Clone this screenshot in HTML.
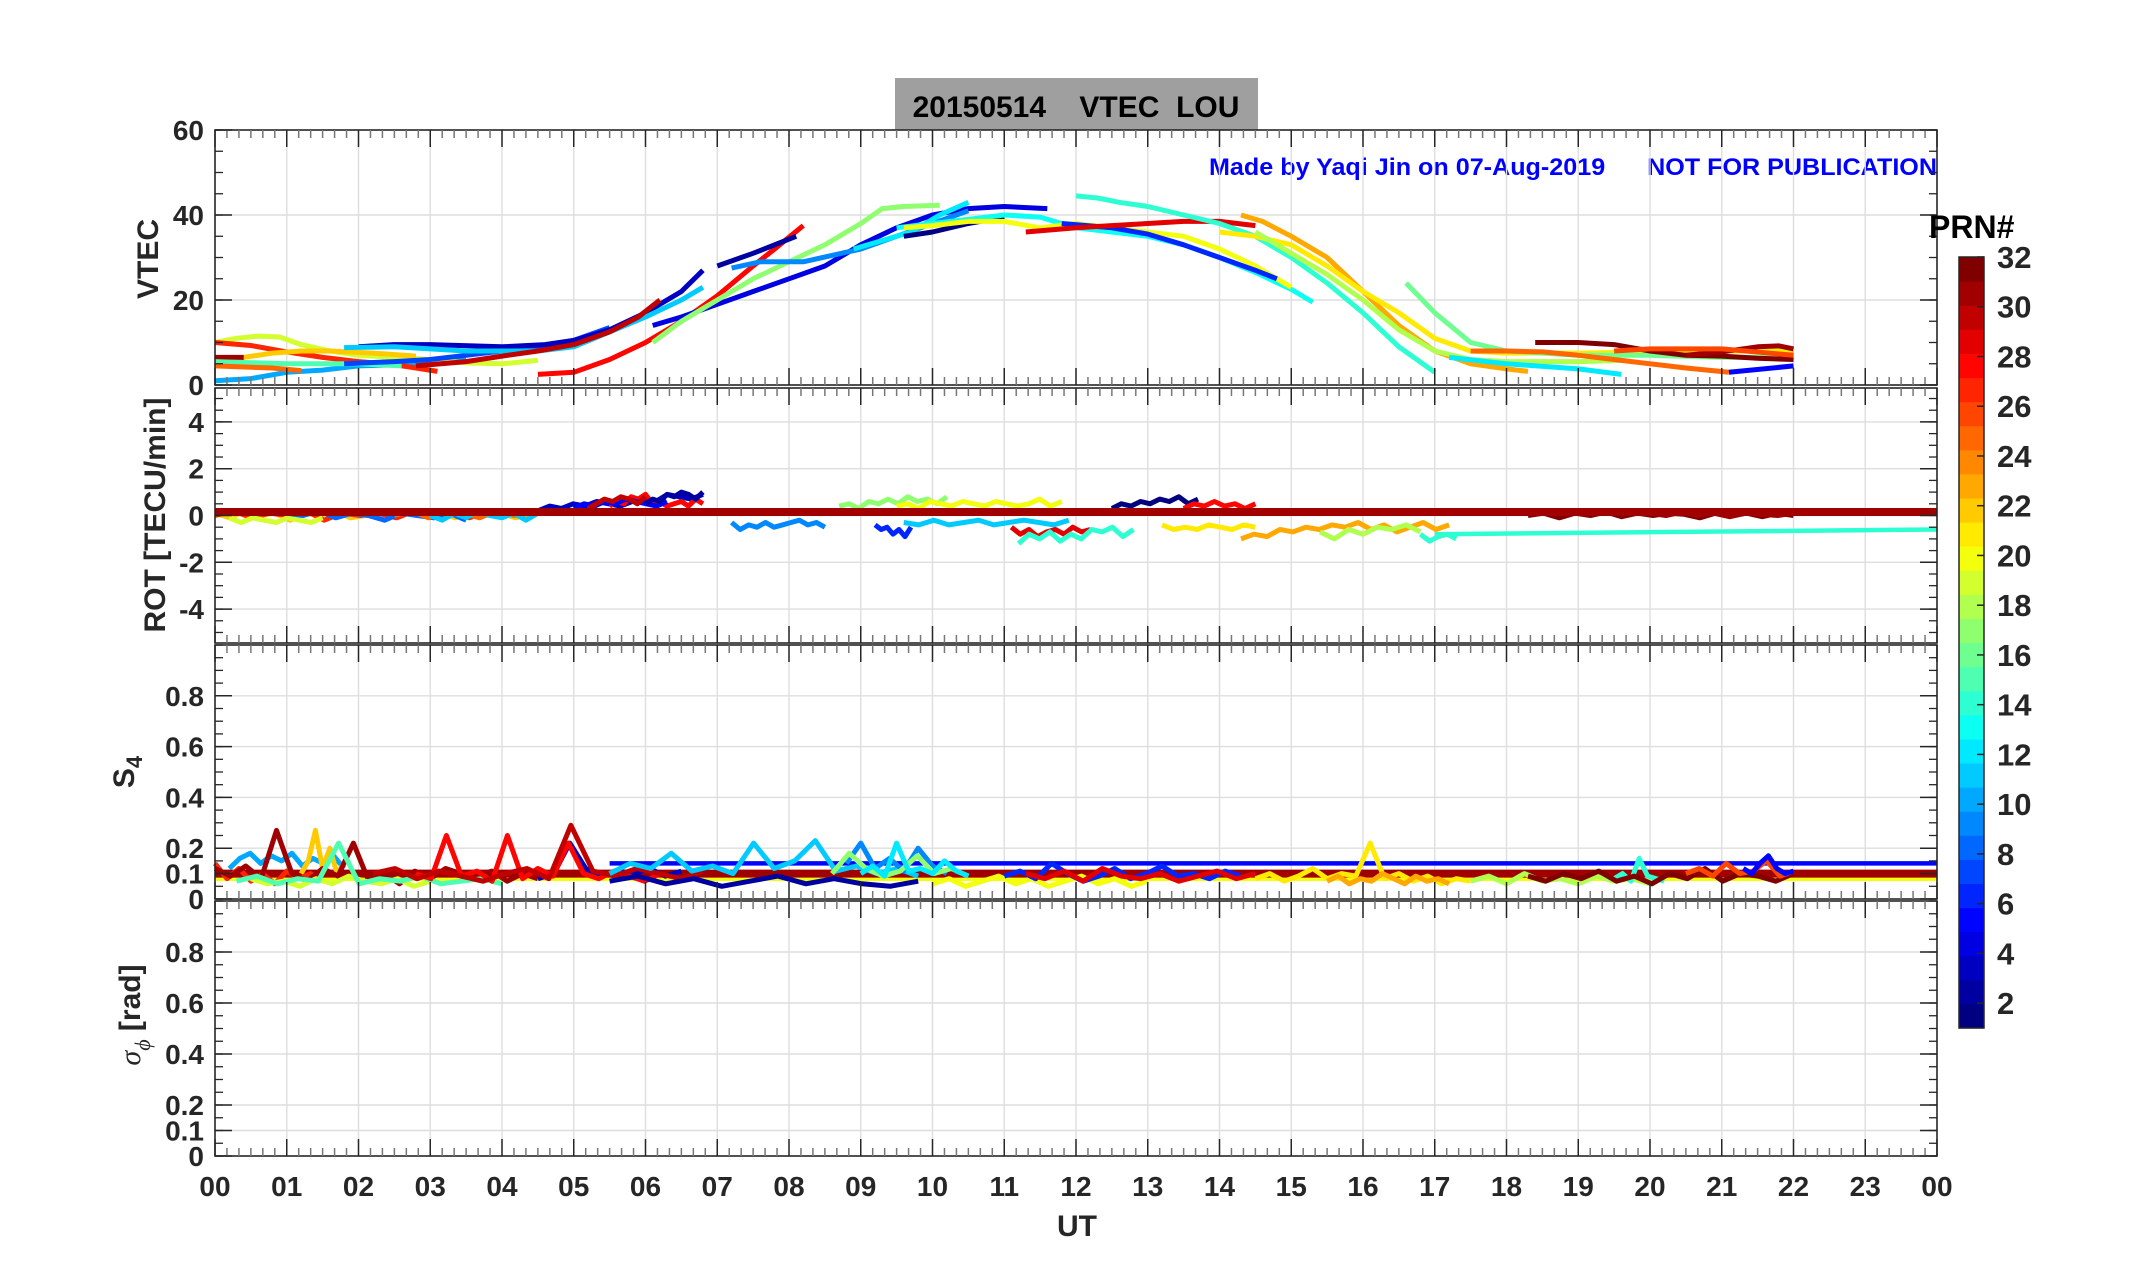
<!DOCTYPE html>
<html><head><meta charset="utf-8"><style>
html,body{margin:0;padding:0;background:#fff;}
svg{display:block;font-family:"Liberation Sans",Arial,sans-serif;}
</style></head><body>
<svg id="chart" width="2153" height="1286" viewBox="0 0 2153 1286" xmlns="http://www.w3.org/2000/svg">
<rect x="0" y="0" width="2153" height="1286" fill="#fff"/>
<rect x="895" y="78" width="363" height="52" fill="#9f9f9f"/>
<text x="1076" y="117" text-anchor="middle" font-size="30" font-weight="bold" fill="#000" xml:space="preserve">20150514    VTEC  LOU</text>
<text x="1937" y="175" text-anchor="end" font-size="24.5" font-weight="bold" fill="#0000ff" textLength="728" lengthAdjust="spacingAndGlyphs" xml:space="preserve">Made by Yaqi Jin on 07-Aug-2019      NOT FOR PUBLICATION</text>
<g id="grid"></g><g id="series"></g><g id="axes"></g>
<text transform="translate(158,259) rotate(-90)" text-anchor="middle" font-size="30" font-weight="bold" fill="#262626">VTEC</text>
<text transform="translate(165,515) rotate(-90)" text-anchor="middle" font-size="30" font-weight="bold" fill="#262626">ROT [TECU/min]</text>
<text transform="translate(134,772) rotate(-90)" text-anchor="middle" font-size="30" font-weight="bold" fill="#262626">S<tspan font-size="22" dy="8">4</tspan></text>
<text transform="translate(140,1015) rotate(-90)" text-anchor="middle" font-size="30" font-weight="bold" fill="#262626"><tspan font-family="Liberation Serif" font-style="italic" font-weight="normal">σ</tspan><tspan font-size="22" dy="10" font-family="Liberation Serif" font-style="italic" font-weight="normal">ϕ</tspan><tspan dy="-10"> [rad]</tspan></text>
<text x="1077" y="1236" text-anchor="middle" font-size="30" font-weight="bold" fill="#262626">UT</text>
<text x="1929" y="238" font-size="32" font-weight="bold" fill="#000">PRN#</text>
<g id="cbar"></g>
</svg>
<script>
// ---------- data ----------
const xTickLabels = ["00","01","02","03","04","05","06","07","08","09","10","11","12","13","14","15","16","17","18","19","20","21","22","23","00"];
const vtecTicks = [0,20,40,60];
const rotTicks = [-4,-2,0,2,4];
const s4Ticks = [0,0.1,0.2,0.4,0.6,0.8];
const cbarTicks = [2,4,6,8,10,12,14,16,18,20,22,24,26,28,30,32];

const vtecPrn = [10,19,27,22,31,15,25,7,3,11,30,28,4,17,9,2,12,1,13,20,6,29,14,23,21,18,16,12,25,32,31,26,5];
const vtecArcs = [
 [[0,1],[0.5,1.5],[1,3],[1.5,3.5],[2,4.5],[3,5],[3.5,6]],
 [[0,10],[0.3,11],[0.6,11.5],[0.9,11.3],[1.2,9.5],[1.6,8],[2,7],[3,6],[3.5,5.2],[4,5],[4.5,5.8]],
 [[0,10],[0.5,9.3],[1,7.8],[1.5,6.5],[2,5.5],[2.5,4.8],[3.1,3.2]],
 [[0,6],[0.4,6.5],[0.8,7.5],[1.2,8],[1.6,8],[2.2,7.5],[2.8,6.8]],
 [[0,6.5],[0.4,6.5]],
 [[0,5.5],[1,5],[2,5],[2.6,4.5]],
 [[0,4.5],[0.8,4],[1.2,3.4]],
 [[1.8,5],[2.5,5.5],[3,6],[3.5,7],[4,8],[4.5,8.8],[5,10.5],[5.5,13.5]],
 [[2,9],[2.5,9.5],[3,9.5],[4,9],[4.6,9.5],[5,10.5],[5.5,13],[6,17],[6.5,22],[6.8,27]],
 [[1.8,8.8],[2.5,9],[3.5,8],[4.5,8],[5,9],[5.5,12.5],[6,16],[6.5,20],[6.8,23]],
 [[2.8,4.5],[3.5,5.5],[4,6.8],[4.5,8],[5,9.5],[5.5,12.5],[5.9,16],[6.2,20]],
 [[4.5,2.5],[5,3],[5.5,6],[6,10],[6.5,15],[7,21],[7.5,28],[7.8,32],[8.2,37.5]],
 [[6.1,14],[6.5,16],[7,19],[7.5,22],[8,25],[8.5,28],[9,33],[9.5,37],[10,40],[10.5,41.5],[11,42],[11.6,41.5]],
 [[6.1,10],[6.5,15],[7,20],[7.5,25],[8,29],[8.5,33],[9,38],[9.3,41.5],[9.6,42],[10.1,42.3]],
 [[7.2,27.5],[7.6,29],[8.2,29],[8.6,30.5],[9,32],[9.5,35],[10,38],[10.5,41]],
 [[7,28],[7.5,31],[8.1,35]],
 [[8.9,32],[9.3,34],[9.7,36],[10.1,40],[10.5,43]],
 [[9.6,35],[10,36],[10.5,38],[11,39.5]],
 [[9.5,37],[10,38],[10.5,39],[11,40],[11.5,39.5],[12,37],[12.5,36],[13,35],[13.5,33],[14,30],[14.5,26.5],[15,22.5],[15.3,19.5]],
 [[9.6,37],[10,37.5],[10.5,38.5],[11,38.5],[11.5,37],[12,38],[12.5,37],[13,36],[13.5,35],[14,32],[14.5,28],[15,23]],
 [[11.8,38],[12.5,37],[13,35.5],[13.5,33],[14,30],[14.5,27],[14.8,25]],
 [[11.3,36],[12,37],[12.5,37.5],[13,38],[13.5,38.5],[14,38.5],[14.5,37.5]],
 [[12,44.5],[12.3,44],[12.6,43],[13,42],[13.5,40],[14,38],[14.5,35],[15,30],[15.5,24],[16,17],[16.5,9],[17,3]],
 [[14.3,40],[14.6,38.5],[15,35],[15.5,30],[16,22],[16.5,14],[17,8],[17.5,5],[18,3.8],[18.3,3.2]],
 [[14,36],[14.5,35],[15,33],[15.5,28],[16,22],[16.5,17],[17,11],[17.5,8],[18,7.5],[19,7.5],[20,7.8],[21,8],[22,8]],
 [[14.5,36],[15,31],[15.5,26],[16,20],[16.5,13],[17,8],[17.5,6],[18,5.5],[19,5.5],[19.6,5.8]],
 [[16.6,24],[17,17],[17.5,10],[18,8],[19,7],[20,7],[21,6.5],[22,6.5]],
 [[17.2,6.5],[18,5],[19,3.8],[19.6,2.5]],
 [[17.5,8],[18,8],[18.5,7.8],[19,7],[19.5,6],[20,5],[20.5,4],[21.1,3]],
 [[18.4,10],[19,10],[19.5,9.5],[20,8],[20.5,7],[21,6.8],[21.5,6.3],[22,6]],
 [[20.5,7],[21,7.8],[21.5,9],[21.8,9.2],[22,8.5]],
 [[19.5,8],[20,8.5],[21,8.5],[22,7]],
 [[21.1,3],[22,4.5]]
];

const rotPrn = [22,27,19,8,25,11,3,28,5,2,30,9,17,6,20,11,29,14,1,28,21,23,18,14,32,31];
const rotStart = [0,0,0.2,1,2.5,3,4.5,5.5,5,6,5.2,7.2,8.7,9.2,9.5,9.6,11.1,11.2,12.5,13.5,13.2,14.3,15.4,16.8,18.3,20];
const rotEnd = [4.4,3.8,1.5,3.5,4.4,4.5,6.8,6.8,6.3,6.8,6,8.5,10.2,9.7,11.8,11.9,12.2,12.8,13.7,14.5,14.5,17.2,16.8,17.3,22,22];
const rotVals = [
 [0.1,-0.1,0.2,0,0.1,-0.2,0.1,0,0.2,-0.1,0,0.1,-0.1,0.2,0,0.1,-0.1,0.2,0,0.1,-0.1,0.1],
 [0,0.2,-0.1,0.1,0,0.2,-0.2,0.1,0,0.1,-0.1,0.2,0,0.15,-0.1,0.2],
 [-0.1,-0.3,-0.1,-0.2,-0.3,-0.1,-0.2,-0.3,-0.1],
 [0.1,0,0.2,-0.1,0.1,0,-0.2,0.1,0,-0.1,0.1,-0.2],
 [0,0.2,-0.1,0.2,0.1,-0.1,0.2,0,0.1],
 [0,-0.2,0.1,-0.1,0.2,0,-0.1,0.1,-0.2,0.1],
 [0.2,0.4,0.3,0.5,0.4,0.6,0.5,0.4,0.6,0.7,0.6,0.9,0.8,0.7,0.9],
 [0.4,0.6,0.5,0.8,0.7,0.9,0.5,0.6,0.4,0.5,0.6,0.4,0.7,0.5],
 [0.3,0.5,0.4,0.6,0.5,0.7,0.6,0.5,0.4,0.6],
 [0.5,0.7,0.6,0.9,0.8,1.0,0.9,0.7,1.0],
 [0.3,0.5,0.7,0.6,0.8,0.7,0.5,0.8],
 [-0.3,-0.6,-0.4,-0.5,-0.3,-0.5,-0.4,-0.3,-0.2,-0.4,-0.3,-0.5],
 [0.4,0.5,0.3,0.6,0.5,0.7,0.5,0.8,0.6,0.7,0.5,0.8],
 [-0.4,-0.6,-0.5,-0.8,-0.6,-0.9,-0.5],
 [0.4,0.5,0.3,0.6,0.5,0.4,0.6,0.5,0.4,0.6,0.5,0.4,0.5,0.7,0.4,0.6],
 [-0.3,-0.4,-0.2,-0.4,-0.3,-0.2,-0.4,-0.3,-0.2,-0.3,-0.4,-0.2],
 [-0.5,-0.8,-0.6,-0.9,-0.7,-0.6,-0.8,-0.5,-0.7,-0.6],
 [-1.2,-0.8,-1.0,-0.7,-1.1,-0.8,-1.0,-0.6,-0.7,-0.5,-0.9,-0.6],
 [0.3,0.5,0.4,0.6,0.5,0.7,0.6,0.8,0.5,0.7],
 [0.3,0.5,0.4,0.6,0.4,0.5,0.3,0.5],
 [-0.4,-0.6,-0.5,-0.6,-0.4,-0.5,-0.6,-0.4,-0.5],
 [-1.0,-0.8,-0.9,-0.6,-0.7,-0.5,-0.6,-0.4,-0.5,-0.3,-0.6,-0.4,-0.7,-0.5,-0.3,-0.6,-0.4],
 [-0.7,-1.0,-0.6,-0.8,-0.5,-0.6,-0.4,-0.7],
 [-0.8,-1.1,-0.9,-0.8,-1.0],
 [0,0.1,-0.1,0.1,0,0.15,-0.05,0.1,0,0.1,0.05,-0.1,0.1,0,0.1,-0.05,0.1,0],
 [0.1,0,0.15,0,0.1,-0.05,0.1,0.05,0,0.1]
];
const rotLinePrn = [27,31,14];
const rotLineStart = [0,0,17];
const rotLineEnd = [24,24,24];
const rotLineV0 = [0.1,0.15,-0.8];
const rotLineV1 = [0.1,0.15,-0.6];

const s4Prn = [10,22,27,31,19,15,3,28,30,11,2,9,17,12,20,6,29,21,23,18,14,32,26,5];
const s4Start = [0.2,1.2,0,0,0.5,0.3,4.5,2.8,2.2,5.5,5.5,8.8,8.6,9.0,10,11,11.3,14.5,15.5,17.5,19.5,18.3,20.5,21.3];
const s4End = [1.8,1.8,1.5,4.5,3,4,6.5,6.2,6.8,9.8,9.8,10.2,10.5,10.5,13,14.3,14.5,17.5,17.2,20,20.2,22,22,22];
const s4Vals = [
 [0.12,0.16,0.18,0.14,0.17,0.15,0.18,0.13,0.16,0.14,0.17,0.12],
 [0.1,0.15,0.27,0.12,0.2,0.1,0.14],
 [0.14,0.08,0.12,0.07,0.1,0.06,0.11,0.08,0.1,0.07],
 [0.12,0.09,0.13,0.08,0.27,0.1,0.07,0.12,0.09,0.22,0.07,0.1,0.06,0.11,0.08,0.12,0.1,0.09,0.11,0.07,0.1,0.08],
 [0.08,0.06,0.07,0.05,0.08,0.06,0.09,0.07,0.06,0.08,0.05,0.07],
 [0.07,0.09,0.06,0.08,0.07,0.22,0.06,0.08,0.07,0.09,0.06,0.07,0.08,0.06],
 [0.08,0.1,0.22,0.12,0.09,0.11,0.1,0.12,0.09,0.11],
 [0.1,0.08,0.25,0.09,0.11,0.07,0.25,0.08,0.12,0.09,0.22,0.1,0.08,0.11,0.09,0.07,0.1],
 [0.1,0.12,0.08,0.11,0.09,0.07,0.1,0.12,0.08,0.29,0.11,0.09,0.12,0.1,0.08,0.11],
 [0.1,0.14,0.12,0.18,0.11,0.13,0.1,0.22,0.12,0.15,0.23,0.11,0.13,0.1,0.12,0.09],
 [0.07,0.09,0.06,0.08,0.05,0.07,0.09,0.06,0.08,0.06,0.05,0.07],
 [0.14,0.22,0.12,0.16,0.11,0.2,0.13,0.1],
 [0.1,0.18,0.12,0.09,0.11,0.17,0.1,0.12,0.09],
 [0.1,0.13,0.09,0.22,0.11,0.12,0.1,0.15,0.11,0.09],
 [0.06,0.08,0.05,0.07,0.09,0.06,0.08,0.05,0.07,0.09,0.06,0.08,0.05,0.07],
 [0.09,0.11,0.08,0.14,0.1,0.07,0.09,0.12,0.08,0.1,0.13,0.09,0.1,0.08,0.11,0.09],
 [0.1,0.08,0.11,0.07,0.12,0.09,0.08,0.1,0.07,0.09,0.11,0.08,0.1],
 [0.08,0.1,0.07,0.09,0.12,0.08,0.1,0.09,0.22,0.08,0.1,0.07,0.09,0.06,0.08,0.07],
 [0.07,0.09,0.06,0.08,0.07,0.1,0.08,0.06,0.09,0.07,0.08,0.06],
 [0.07,0.09,0.06,0.1,0.07,0.08,0.06,0.09,0.07,0.08,0.06],
 [0.08,0.1,0.07,0.16,0.09,0.08,0.07],
 [0.09,0.07,0.1,0.08,0.11,0.07,0.09,0.06,0.1,0.08,0.12,0.07,0.1,0.09,0.07,0.1],
 [0.1,0.12,0.09,0.14,0.1,0.11,0.15,0.09,0.11],
 [0.12,0.1,0.14,0.17,0.12,0.1,0.11]
];
const s4LinePrn = [5,20,27,31];
const s4LineStart = [5.5,0,0,0];
const s4LineEnd = [24,24,24,24];
const s4LineVal = [0.14,0.08,0.1,0.1];

// ---------- geometry ----------
const X0=215, X1=1937;
const panels=[{top:130,bot:385,min:0,max:60},{top:388,bot:643,min:-5.45,max:5.45},{top:645,bot:899,min:0,max:1},{top:901,bot:1156,min:0,max:1}];
const NS="http://www.w3.org/2000/svg";
function xs(h){return X0+h/24*(X1-X0);}
function ys(p,v){const P=panels[p];return P.bot-(v-P.min)/(P.max-P.min)*(P.bot-P.top);}
function jet(prn){const t=(prn-1)/31;const c=x=>Math.round(255*Math.max(0,Math.min(1,1.5-Math.abs(4*t-x))));return `rgb(${c(3)},${c(2)},${c(1)})`;}
function mk(tag,attrs,parent){const e=document.createElementNS(NS,tag);for(const k in attrs)e.setAttribute(k,attrs[k]);parent.appendChild(e);return e;}
const grid=document.getElementById('grid'),series=document.getElementById('series'),axes=document.getElementById('axes'),cbar=document.getElementById('cbar');

function poly(p,pts,color,w,parent,name){
  const d=pts.map((q,i)=>(i?'L':'M')+xs(q[0]).toFixed(1)+','+ys(p,q[1]).toFixed(1)).join('');
  const e=mk('path',{d:d,fill:'none',stroke:color,'stroke-width':w,'stroke-linejoin':'round','stroke-linecap':'butt'},parent);
  
  
  return e;
}
function evenPts(t0,t1,vals){return vals.map((v,i)=>[t0+i*(t1-t0)/(vals.length-1),v]);}

const yTickSets=[
 {maj:vtecTicks,minStep:5,lab:vtecTicks.map(String)},
 {maj:rotTicks,minStep:0.5,lab:rotTicks.map(String)},
 {maj:s4Ticks,minStep:0.05,lab:s4Ticks.map(String)},
 {maj:s4Ticks,minStep:0.05,lab:s4Ticks.map(String)}
];
panels.forEach((P,pi)=>{
  for(let h=1;h<24;h++){const l=mk('line',{x1:xs(h),x2:xs(h),y1:P.top,y2:P.bot,stroke:'#dedede','stroke-width':1.4},grid);
    
    }
  const ts=yTickSets[pi];
  ts.maj.forEach(v=>{if(v>P.min&&v<P.max){const l=mk('line',{x1:X0,x2:X1,y1:ys(pi,v),y2:ys(pi,v),stroke:'#dedede','stroke-width':1.4},grid);
    
    }});
  const r=mk('rect',{x:X0,y:P.top,width:X1-X0,height:P.bot-P.top,fill:'none',stroke:'#262626','stroke-width':1.6},axes);
  
  
  for(let m=0;m<=144;m++){const h=m/6, maj=(m%6===0);const len=maj?17:8;const col=maj?'#262626':'#777';
    mk('line',{x1:xs(h),x2:xs(h),y1:P.top,y2:P.top+len,stroke:col,'stroke-width':1.5},axes);
    mk('line',{x1:xs(h),x2:xs(h),y1:P.bot,y2:P.bot-len,stroke:col,'stroke-width':1.5},axes);}
  const start=Math.ceil(P.min/ts.minStep);
  for(let k=start;k*ts.minStep<=P.max+1e-9;k++){const v=k*ts.minStep;const y=ys(pi,v);
    mk('line',{x1:X0,x2:X0+8,y1:y,y2:y,stroke:'#262626','stroke-width':1.3},axes);
    mk('line',{x1:X1,x2:X1-8,y1:y,y2:y,stroke:'#262626','stroke-width':1.3},axes);}
  ts.maj.forEach((v,i)=>{const y=ys(pi,v);
    mk('line',{x1:X0,x2:X0+17,y1:y,y2:y,stroke:'#262626','stroke-width':1.5},axes);
    mk('line',{x1:X1,x2:X1-17,y1:y,y2:y,stroke:'#262626','stroke-width':1.5},axes);
    const t=mk('text',{x:204,y:y+10,'text-anchor':'end','font-size':28,'font-weight':'bold',fill:'#262626'},axes);
    t.textContent=ts.lab[i];
    
    });
});
xTickLabels.forEach((s,i)=>{const t=mk('text',{x:xs(i),y:1196,'text-anchor':'middle','font-size':28,'font-weight':'bold',fill:'#262626'},axes);
  t.textContent=s;
  
  });

vtecArcs.forEach((pts,i)=>poly(0,pts,jet(vtecPrn[i]),5,series,'vtec-arc-prn'+vtecPrn[i]));
rotVals.forEach((vals,i)=>poly(1,evenPts(rotStart[i],rotEnd[i],vals),jet(rotPrn[i]),5,series,'rot-arc-prn'+rotPrn[i]));
rotLinePrn.forEach((prn,i)=>poly(1,[[rotLineStart[i],rotLineV0[i]],[rotLineEnd[i],rotLineV1[i]]],jet(prn),prn===31?8:4.5,series,'rot-line-prn'+prn));
s4LinePrn.forEach((prn,i)=>poly(2,[[s4LineStart[i],s4LineVal[i]],[s4LineEnd[i],s4LineVal[i]]],jet(prn),prn===31?8:4.5,series,'s4-line-prn'+prn));
s4Vals.forEach((vals,i)=>poly(2,evenPts(s4Start[i],s4End[i],vals),jet(s4Prn[i]),5,series,'s4-arc-prn'+s4Prn[i]));

const CB={x:1959,w:25,top:257,bot:1028};
for(let i=1;i<=32;i++){const h=(CB.bot-CB.top)/32;
  const r=mk('rect',{x:CB.x,y:CB.bot-i*h,width:CB.w,height:h+0.6,fill:jet(i)},cbar);
  
  }
mk('rect',{x:CB.x,y:CB.top,width:CB.w,height:CB.bot-CB.top,fill:'none',stroke:'#262626','stroke-width':1.5},cbar);
cbarTicks.forEach(v=>{const y=CB.bot-(v-1)/31*(CB.bot-CB.top);
  mk('line',{x1:CB.x+CB.w-7,x2:CB.x+CB.w,y1:y,y2:y,stroke:'#262626','stroke-width':1.5},cbar);
  const t=mk('text',{x:1997,y:y+11,'font-size':31,'font-weight':'bold',fill:'#262626'},cbar);
  t.textContent=String(v);
  
  });
</script>
</body></html>
